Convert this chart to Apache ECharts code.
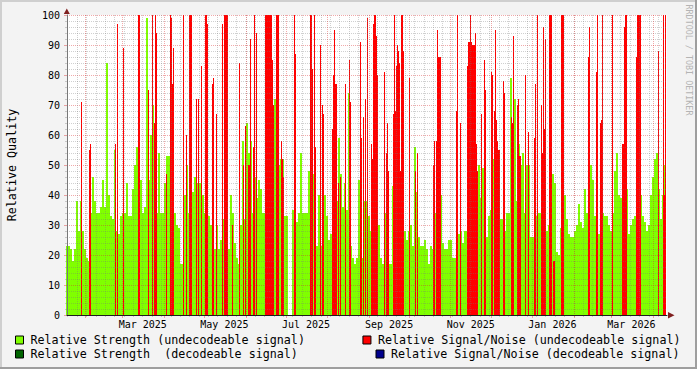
<!DOCTYPE html>
<html><head><meta charset="utf-8">
<script src="https://cdn.jsdelivr.net/npm/echarts@6/dist/echarts.min.js"></script>
<style>html,body{margin:0;padding:0;background:#f3f3f3}#c{width:697px;height:369px}</style>
</head><body><div id="c"></div>
<script>
// ---- data ----
const seriesNames = [
  'Relative Strength (undecodeable signal)',
  'Relative Strength  (decodeable signal)',
  'Relative Signal/Noise (undecodeable signal)',
  'Relative Signal/Noise (decodeable signal)'
];
const startTime = Date.UTC(2025, 0, 18, 11, 0, 0);
const spanHours = 10755;           // time covered by the plot width
// relative strength, one value per 2-pixel time column
const strength = [
23,23,22,18,22,38,28,38,28,22, 19,18,34,46,38,34,34,36,45,36,
84,40,33,32,55,28,27,33,34,34, 44,33,33,42,50,56,40,45,34,36,
99,45,60,70,55,34,54,34,34,44, 53,53,40,36,34,30,29,17,17,40,
50,34,34,41,46,44,44,44,40,34, 34,33,30,24,22,30,22,25,32,32,
30,22,40,34,24,19,17,30,58,32, 64,54,58,34,46,39,45,42,34,34,
34,34,34,33,72,34,50,52,52,33, 33,0,0,35,40,31,34,54,34,34,
34,48,34,47,38,23,40,23,23,40, 33,25,27,20,20,38,59,47,36,44,
35,74,23,19,17,19,45,32,19,38, 38,33,28,30,30,37,30,19,17,34,
19,17,17,43,30,30,30,30,24,28, 25,28,30,23,56,41,26,23,23,25,
22,17,23,22,34,30,30,40,24,22, 22,25,25,19,19,19,27,28,24,28,
28,20,35,49,35,35,50,39,49,28, 26,33,35,52,35,35,55,32,32,28,
34,34,79,35,72,38,57,50,54,34, 50,50,26,26,34,33,34,34,34,32,
28,30,35,47,44,21,20,29,35,40, 32,27,26,26,28,30,37,31,29,42,
34,38,50,45,33,27,27,34,34,33, 33,30,28,34,48,54,40,39,34,34,
42,27,30,32,33,33,33,40,33,31, 28,30,40,46,52,54,42,32,40,50
];
// relative signal/noise, one value per 1-pixel time column
const signalNoise = [
0,0,0,0,0,0,0,0,0,0, 0,0,0,0,71,0,0,0,0,0, 0,0,55,57,0,0,0,0,0,0, 0,0,0,0,0,0,0,0,0,0,
0,0,0,0,0,0,0,0,57,0, 97,0,0,0,0,0,89,0,0,0, 0,0,0,0,0,0,0,0,0,0, 0,100,100,0,0,0,0,0,0,0,
0,75,0,0,0,100,0,64,100,94, 0,0,0,0,0,0,0,0,0,47, 0,0,0,100,99,77,89,0,0,0, 0,0,0,0,0,0,100,0,0,60,
0,0,100,100,100,0,0,0,0,72, 0,72,0,0,83,0,0,0,100,100, 97,0,0,0,0,77,79,0,0,67, 0,0,0,0,0,97,0,100,100,100,
100,0,0,0,0,30,0,0,0,0, 0,0,84,0,0,0,50,0,63,0, 0,50,50,92,0,0,56,100,0,94, 0,0,0,0,0,0,0,0,100,100,
100,100,100,100,100,85,70,0,0,100, 100,100,0,0,58,52,46,0,0,0, 0,0,0,0,0,0,0,100,87,0, 0,0,0,0,0,0,0,0,0,0,
0,0,0,100,100,82,0,100,56,0, 0,0,0,90,0,70,67,0,0,0, 0,0,0,0,0,62,80,95,77,77, 0,44,0,46,0,0,0,0,77,0,
0,0,85,71,0,0,0,0,0,0, 0,0,0,91,59,0,66,0,72,0, 99,0,0,0,57,52,97,100,100,93, 80,0,0,0,0,0,0,81,0,54,
64,48,0,0,0,0,67,100,68,83, 90,88,84,48,100,100,88,0,0,0, 0,0,79,0,0,0,0,0,48,0, 54,0,0,0,0,0,0,0,0,0,
0,0,0,0,0,0,50,58,0,58, 95,86,86,86,0,0,0,0,0,0, 0,0,0,0,0,0,0,0,0,68, 100,0,0,64,0,0,0,0,0,0,
83,91,91,100,91,90,90,90,94,57, 48,0,0,0,67,0,0,85,75,0, 0,0,0,0,81,80,0,68,95,65, 58,55,55,0,0,0,78,74,0,0,
0,0,0,0,66,64,93,0,0,0, 70,72,53,53,0,0,0,0,80,0, 0,61,0,0,0,0,0,59,77,0, 100,0,0,0,70,54,96,62,92,0,
0,0,100,100,100,0,18,18,0,0, 0,0,0,0,100,100,100,0,0,0, 0,0,0,0,0,0,0,0,0,0, 0,0,0,0,0,0,0,0,0,0,
0,86,96,0,0,0,0,0,0,81, 100,0,0,64,65,100,0,0,0,0, 0,0,0,0,0,100,0,0,0,0, 0,0,0,0,0,57,57,96,100,100,
0,0,0,0,0,0,0,0,0,86, 100,100,100,100,0,0,0,0,0,0, 0,0,0,0,0,0,0,0,0,0, 0,88,0,0,0,0,100,40,100,0
];
const strengthDecodeable = [];
const signalNoiseDecodeable = [];
const monthLabels = ['Mar 2025','May 2025','Jul 2025','Sep 2025','Nov 2025','Jan 2026','Mar 2026'];
const monthLabelStarts = [[2025,2],[2025,4],[2025,6],[2025,8],[2025,10],[2026,0],[2026,2]];
const yTicks = [0,10,20,30,40,50,60,70,80,90,100];

// ---- derived ----
const PLOT_W = 600;
const xMin = startTime;
const xMax = startTime + spanHours * 3600 * 1000;
const toPairs = arr => { const s = (xMax - xMin) / arr.length; return arr.map((v, i) => [xMin + (i + 0.5) * s, v]); };
const DAY = 86400000;
const labelTimes = monthLabelStarts.map(([y, m]) => Date.UTC(y, m, 1) + 15 * DAY);
const monthTimes = [];
for (let y = 2025, m = 1; ; m++) { if (m > 11) { m = 0; y++; } const t = Date.UTC(y, m, 1); if (t > xMax) break; monthTimes.push(t); }
const weekTimes = [];
for (let t = Date.UTC(2025, 0, 19); t <= xMax; t += 7 * DAY) weekTimes.push(t);

const FONT = 'DejaVu Sans Mono';
const GREEN = '#80ff00', RED = '#ff0000', DGREEN = '#006400', NAVY = '#00008c';
const minorColor = 'rgba(120,120,120,0.35)';
const majorColor = 'rgba(220,40,40,0.4)';

const chart = echarts.init(document.getElementById('c'), null, {renderer: 'svg'});
const legendBase = {
  orient: 'horizontal', padding: 0, itemWidth: 8, itemHeight: 8, icon: 'rect',
  selectedMode: false,
  itemStyle: {borderColor: '#000', borderWidth: 1},
  textStyle: {fontFamily: FONT, fontSize: 11.7, color: '#000', padding: [0, 0, 0, 2]}
};
const hiddenAxisBits = {axisLine: {show: false}, axisLabel: {show: false}};
const barBase = {type: 'bar', silent: true, barGap: '0%', barCategoryGap: '0%',
                 itemStyle: {borderWidth: 0}, emphasis: {disabled: true}};
chart.setOption({
  animation: false,
  backgroundColor: '#f3f3f3',
  textStyle: {fontFamily: FONT},
  grid: {left: 67, top: 15, width: PLOT_W, height: 300, containLabel: false, outerBoundsMode: 'none',
         show: true, backgroundColor: '#ffffff', borderWidth: 0},
  xAxis: [
    {type: 'value', position: 'bottom', min: xMin, max: xMax, z: 4,
     axisLine: {show: true, lineStyle: {color: '#1e1e1e', width: 1}},
     axisTick: {show: false}, splitLine: {show: false},
     axisLabel: {show: true, customValues: labelTimes, fontFamily: FONT, fontSize: 10, color: '#000', margin: 4,
       formatter: v => { const k = labelTimes.findIndex(t => Math.abs(t - v) < 1000); return k >= 0 ? monthLabels[k] : ''; }}},
    Object.assign({type: 'value', position: 'bottom', min: xMin, max: xMax, z: 3,
     axisTick: {show: true, customValues: weekTimes, length: 2, lineStyle: {color: minorColor}},
     splitLine: {show: true, lineStyle: {color: minorColor, width: 1, type: [1, 1]}}}, hiddenAxisBits),
    Object.assign({type: 'value', position: 'bottom', min: xMin, max: xMax, z: 3,
     axisTick: {show: true, customValues: monthTimes, length: 3, lineStyle: {color: majorColor}},
     splitLine: {show: true, lineStyle: {color: majorColor, width: 1, type: [1, 1]}}}, hiddenAxisBits)
  ],
  yAxis: [{
    type: 'value', min: 0, max: 100, interval: 10, z: 3,
    axisLine: {show: true, lineStyle: {color: '#777'}},
    axisTick: {show: true, length: 3, lineStyle: {color: majorColor}},
    minorTick: {show: true, splitNumber: 5, length: 2, lineStyle: {color: minorColor}},
    splitLine: {show: true, lineStyle: {color: majorColor, width: 1, type: [1, 1]}},
    minorSplitLine: {show: true, lineStyle: {color: minorColor, width: 1, type: [1, 1]}},
    axisLabel: {fontFamily: FONT, fontSize: 10, color: '#000', margin: 7,
      customValues: yTicks, formatter: v => String(v)}
  }],
  legend: [
    Object.assign({}, legendBase, {data: [seriesNames[0]], left: 15, top: 334}),
    Object.assign({}, legendBase, {data: [seriesNames[1]], left: 15, top: 348}),
    Object.assign({}, legendBase, {data: [seriesNames[2]], right: 16.5, top: 334}),
    Object.assign({}, legendBase, {data: [seriesNames[3]], right: 17.5, top: 348})
  ],
  series: [
    Object.assign({}, barBase, {name: seriesNames[0], xAxisIndex: 0, z: 1, barWidth: PLOT_W / strength.length,
      data: toPairs(strength), itemStyle: {color: GREEN, borderWidth: 0}}),
    Object.assign({}, barBase, {name: seriesNames[1], xAxisIndex: 0, z: 1, barWidth: 2,
      data: toPairs(strengthDecodeable), itemStyle: {color: DGREEN, borderWidth: 0}}),
    Object.assign({}, barBase, {name: seriesNames[2], xAxisIndex: 1, z: 2, barWidth: PLOT_W / signalNoise.length,
      data: toPairs(signalNoise), itemStyle: {color: RED, borderWidth: 0}}),
    Object.assign({}, barBase, {name: seriesNames[3], xAxisIndex: 2, z: 2, barWidth: 1,
      data: toPairs(signalNoiseDecodeable), itemStyle: {color: NAVY, borderWidth: 0}})
  ],
  graphic: [
    {type: 'rect', shape: {x: 0, y: 0, width: 697, height: 2}, style: {fill: '#cfcfcf'}, z: 100, silent: true},
    {type: 'rect', shape: {x: 0, y: 0, width: 2, height: 369}, style: {fill: '#cfcfcf'}, z: 100, silent: true},
    {type: 'rect', shape: {x: 0, y: 367, width: 697, height: 2}, style: {fill: '#9e9e9e'}, z: 100, silent: true},
    {type: 'rect', shape: {x: 695, y: 0, width: 2, height: 369}, style: {fill: '#9e9e9e'}, z: 100, silent: true},
    {type: 'polygon', shape: {points: [[63.8, 14], [66.8, 8.5], [69.8, 14]]}, style: {fill: '#7f1f1f'}, z: 100, silent: true},
    {type: 'polygon', shape: {points: [[668, 312], [674.5, 315.2], [668, 318.4]]}, style: {fill: '#7f1f1f'}, z: 100, silent: true},
    {type: 'text', x: 11.5, y: 165, rotation: Math.PI / 2, silent: true, z: 100,
     style: {text: 'Relative Quality', font: '11.7px "DejaVu Sans Mono"', fill: '#000', align: 'center', verticalAlign: 'middle'}},
    {type: 'text', x: 688.5, y: 60, rotation: -Math.PI / 2, silent: true, z: 100,
     style: {text: 'RRDTOOL / TOBI OETIKER', font: '8.4px "DejaVu Sans Mono"', fill: '#b4b4b4', align: 'center', verticalAlign: 'middle'}}
  ]
});
</script>
</body></html>
